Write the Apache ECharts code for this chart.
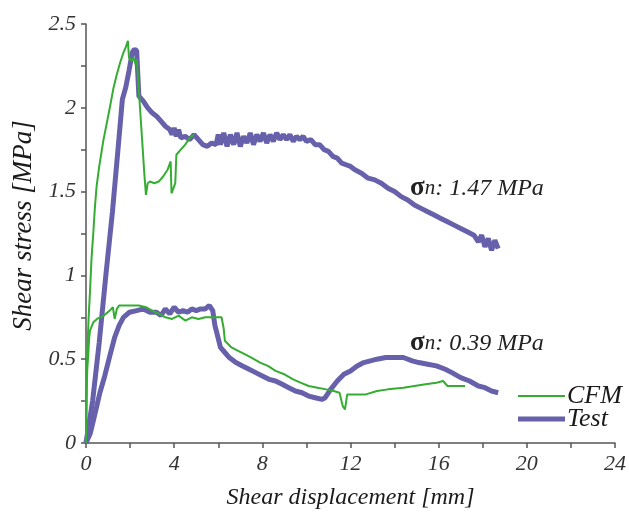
<!DOCTYPE html>
<html>
<head>
<meta charset="utf-8">
<script src="https://cdn.jsdelivr.net/npm/echarts@6/dist/echarts.min.js"></script>
<style>html,body{margin:0;padding:0;background:#fff}#c{width:629px;height:516px}</style>
</head>
<body>
<div id="c"></div>
<script>
// x: shear displacement [mm], y: shear stress [MPa]
const xTicks = [0, 4, 8, 12, 16, 20, 24];
const yTicks = [0, 0.5, 1, 1.5, 2, 2.5];
const seriesNames = ['CFM', 'Test'];
const annotations = ['1.47', '0.39'];

const testHigh = [[0,0],[0.3,0.25],[0.6,0.6],[0.9,1.0],[1.2,1.38],[1.45,1.75],[1.65,2.05],[1.8,2.12],[1.95,2.22],[2.1,2.33],[2.2,2.35],[2.3,2.34],[2.35,2.2],[2.4,2.07],[2.6,2.04],[2.8,2.0],[3.0,1.97],[3.2,1.95],[3.4,1.92],[3.6,1.89],[3.8,1.87],[3.9,1.84],[4.0,1.88],[4.1,1.83],[4.2,1.87],[4.3,1.82],[4.5,1.83],[4.7,1.81],[4.9,1.84],[5.1,1.81],[5.3,1.78],[5.5,1.77],[5.7,1.79],[5.9,1.78],[6.0,1.84],[6.1,1.78],[6.25,1.85],[6.4,1.77],[6.55,1.84],[6.7,1.78],[6.85,1.85],[7.0,1.77],[7.15,1.83],[7.3,1.79],[7.45,1.85],[7.6,1.78],[7.75,1.84],[7.9,1.8],[8.05,1.85],[8.2,1.79],[8.35,1.84],[8.5,1.8],[8.65,1.85],[8.8,1.81],[8.95,1.84],[9.1,1.81],[9.25,1.84],[9.4,1.8],[9.55,1.83],[9.7,1.81],[9.85,1.83],[10.0,1.8],[10.2,1.81],[10.4,1.78],[10.6,1.78],[10.8,1.75],[11.0,1.74],[11.2,1.71],[11.4,1.7],[11.6,1.67],[11.8,1.66],[12.0,1.65],[12.2,1.63],[12.5,1.61],[12.8,1.58],[13.1,1.57],[13.4,1.55],[13.7,1.52],[14.0,1.5],[14.3,1.47],[14.6,1.45],[14.9,1.42],[15.2,1.40],[15.5,1.38],[15.8,1.36],[16.1,1.34],[16.4,1.32],[16.7,1.30],[17.0,1.28],[17.3,1.26],[17.6,1.24],[17.8,1.2],[17.95,1.24],[18.1,1.17],[18.25,1.22],[18.4,1.15],[18.55,1.21],[18.7,1.16]];

const cfmHigh = [[0,0],[0.03,0.3],[0.06,0.55],[0.09,0.56],[0.12,0.75],[0.15,0.76],[0.18,0.9],[0.22,0.91],[0.25,1.1],[0.29,1.11],[0.33,1.25],[0.37,1.26],[0.4,1.4],[0.44,1.41],[0.48,1.53],[0.54,1.54],[0.6,1.65],[0.68,1.66],[0.78,1.8],[0.84,1.81],[0.9,1.88],[0.98,1.89],[1.08,2.0],[1.16,2.01],[1.25,2.12],[1.32,2.13],[1.4,2.2],[1.48,2.21],[1.55,2.27],[1.62,2.28],[1.7,2.33],[1.8,2.36],[1.9,2.4],[1.95,2.3],[2.05,2.28],[2.15,2.3],[2.25,2.26],[2.3,2.29],[2.35,2.2],[2.45,2.0],[2.55,1.8],[2.65,1.6],[2.72,1.48],[2.8,1.55],[2.9,1.56],[3.1,1.55],[3.3,1.56],[3.5,1.59],[3.7,1.63],[3.84,1.68],[3.88,1.49],[3.95,1.5],[4.05,1.55],[4.1,1.72],[4.3,1.75],[4.5,1.78],[4.7,1.82],[4.9,1.84]];

const testLow = [[0,0],[0.2,0.06],[0.4,0.17],[0.63,0.3],[0.85,0.4],[1.08,0.52],[1.3,0.63],[1.5,0.7],[1.7,0.75],[1.97,0.78],[2.3,0.79],[2.6,0.8],[2.9,0.78],[3.2,0.78],[3.4,0.76],[3.6,0.8],[3.8,0.77],[4.0,0.81],[4.2,0.78],[4.4,0.79],[4.6,0.78],[4.8,0.8],[5.0,0.79],[5.2,0.8],[5.4,0.8],[5.6,0.82],[5.75,0.79],[5.85,0.7],[5.95,0.65],[6.1,0.57],[6.3,0.54],[6.5,0.51],[6.8,0.48],[7.1,0.46],[7.4,0.44],[7.7,0.42],[8.0,0.40],[8.3,0.38],[8.6,0.37],[8.9,0.35],[9.2,0.33],[9.5,0.31],[9.8,0.30],[10.1,0.28],[10.4,0.27],[10.7,0.26],[10.85,0.27],[11.1,0.32],[11.4,0.37],[11.7,0.41],[12.0,0.43],[12.3,0.46],[12.6,0.48],[12.9,0.49],[13.2,0.5],[13.6,0.51],[14.0,0.51],[14.4,0.51],[14.8,0.49],[15.1,0.48],[15.5,0.47],[15.9,0.46],[16.3,0.44],[16.6,0.42],[17.0,0.39],[17.4,0.37],[17.8,0.34],[18.1,0.33],[18.4,0.31],[18.7,0.30]];

const cfmLow = [[0,0],[0.02,0.2],[0.03,0.32],[0.06,0.45],[0.1,0.52],[0.14,0.62],[0.18,0.67],[0.33,0.72],[0.5,0.74],[0.8,0.76],[1.08,0.79],[1.22,0.81],[1.3,0.74],[1.4,0.8],[1.5,0.82],[1.97,0.82],[2.4,0.82],[2.72,0.81],[3.0,0.79],[3.32,0.77],[3.6,0.75],[3.91,0.74],[4.2,0.76],[4.51,0.73],[4.8,0.75],[5.1,0.74],[5.41,0.75],[5.8,0.75],[6.15,0.75],[6.25,0.68],[6.3,0.61],[6.6,0.57],[6.9,0.55],[7.2,0.53],[7.5,0.51],[7.9,0.48],[8.25,0.46],[8.6,0.43],[9.0,0.41],[9.4,0.38],[9.73,0.36],[10.1,0.34],[10.5,0.33],[10.9,0.32],[11.24,0.31],[11.5,0.3],[11.65,0.22],[11.75,0.2],[11.85,0.29],[12.2,0.29],[12.7,0.29],[13.2,0.31],[13.7,0.32],[14.4,0.33],[14.9,0.34],[15.4,0.35],[15.9,0.36],[16.2,0.37],[16.4,0.34],[16.8,0.34],[17.2,0.34]];

const GREEN = '#35ad32';
const PURPLE = '#6761ac';
const SERIF = '"Liberation Serif", "DejaVu Serif", serif';

const chart = echarts.init(document.getElementById('c'), null, {renderer: 'canvas'});

function annText(v) {
  return '{s|σ}{n|n}{t|: ' + v + ' MPa}';
}
const annRich = {
  s: {fontFamily: SERIF, fontSize: 27, fill: '#222', fontWeight: 'bold'},
  n: {fontFamily: SERIF, fontSize: 21, fontStyle: 'italic', fill: '#222'},
  t: {fontFamily: SERIF, fontSize: 24, fontStyle: 'italic', fill: '#222'}
};

const option = {
  animation: false,
  backgroundColor: '#fff',
  grid: {left: 86, right: 8, top: 24, bottom: 73, containLabel: false},
  xAxis: {
    type: 'value', min: xTicks[0], max: xTicks[xTicks.length - 1], interval: 4,
    name: 'Shear displacement [mm]', nameLocation: 'middle', nameGap: 43,
    nameTextStyle: {fontFamily: SERIF, fontStyle: 'italic', fontSize: 24, color: '#1a1a1a'},
    axisLine: {lineStyle: {color: '#555', width: 1.5}},
    axisTick: {show: true, length: 5, lineStyle: {color: '#555', width: 1.5}},
    minorTick: {show: true, splitNumber: 2, length: 5, lineStyle: {color: '#555', width: 1.5}},
    splitLine: {show: false},
    axisLabel: {fontFamily: SERIF, fontStyle: 'italic', fontSize: 22, color: '#333', margin: 10}
  },
  yAxis: {
    type: 'value', min: yTicks[0], max: yTicks[yTicks.length - 1], interval: 0.5,
    name: 'Shear stress [MPa]', nameLocation: 'middle', nameGap: 44,
    nameTextStyle: {fontFamily: SERIF, fontStyle: 'italic', fontSize: 27, color: '#1a1a1a', padding: [0, 0, 0, 16]},
    axisLine: {show: true, lineStyle: {color: '#555', width: 1.5}},
    axisTick: {show: true, length: 5, lineStyle: {color: '#555', width: 1.5}},
    minorTick: {show: true, splitNumber: 2, length: 5, lineStyle: {color: '#555', width: 1.5}},
    splitLine: {show: false},
    axisLabel: {fontFamily: SERIF, fontStyle: 'italic', fontSize: 22, color: '#333', margin: 10}
  },
  legend: [
    {data: [seriesNames[0]], left: 518, top: 383, orient: 'vertical', padding: 0,
     itemWidth: 47, itemHeight: 2, icon: 'rect', itemGap: 0,
     textStyle: {fontFamily: SERIF, fontStyle: 'italic', fontSize: 26, color: '#1a1a1a', padding: [0,0,0,-3]}},
    {data: [seriesNames[1]], left: 518, top: 406, orient: 'vertical', padding: 0,
     itemWidth: 47, itemHeight: 5, icon: 'rect', itemGap: 0,
     textStyle: {fontFamily: SERIF, fontStyle: 'italic', fontSize: 26, color: '#1a1a1a', padding: [0,0,0,-3]}}
  ],
  series: [
    {name: seriesNames[1], type: 'line', data: testHigh, showSymbol: false, symbol: 'none',
     lineStyle: {color: PURPLE, width: 5}, itemStyle: {color: PURPLE}, z: 2},
    {name: seriesNames[1], type: 'line', data: testLow, showSymbol: false, symbol: 'none',
     lineStyle: {color: PURPLE, width: 5}, itemStyle: {color: PURPLE}, z: 2},
    {name: seriesNames[0], type: 'line', data: cfmHigh, showSymbol: false, symbol: 'none',
     lineStyle: {color: GREEN, width: 2}, itemStyle: {color: GREEN}, z: 3},
    {name: seriesNames[0], type: 'line', data: cfmLow, showSymbol: false, symbol: 'none',
     lineStyle: {color: GREEN, width: 2}, itemStyle: {color: GREEN}, z: 3}
  ],
  graphic: [
    {type: 'text', left: 410, top: 175, style: {text: annText(annotations[0]), rich: annRich}},
    {type: 'text', left: 410, top: 330, style: {text: annText(annotations[1]), rich: annRich}}
  ]
};
chart.setOption(option);
</script>
</body>
</html>
